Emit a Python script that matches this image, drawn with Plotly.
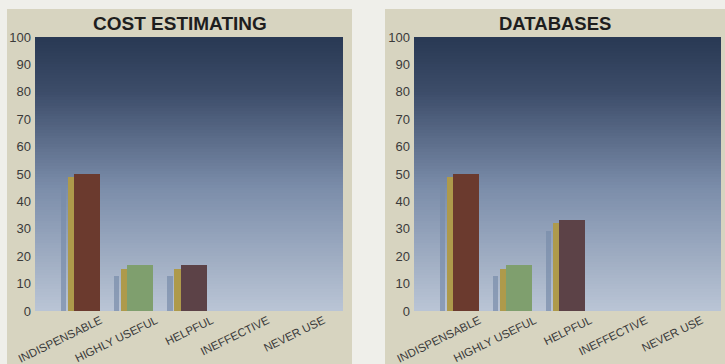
import plotly.graph_objects as go

categories = ["INDISPENSABLE", "HIGHLY USEFUL", "HELPFUL", "INEFFECTIVE", "NEVER USE"]
cost_estimating = [50.0, 16.7, 16.7, 0, 0]
databases = [50.0, 16.7, 33.3, 0, 0]
y_ticks = [0, 10, 20, 30, 40, 50, 60, 70, 80, 90, 100]
panel_titles = ["COST ESTIMATING", "DATABASES"]

W, H = 725, 364
front_colors = ["#6b3a2e", "#7f9f6e", "#5c4247", "#5c4247", "#5c4247"]
side_color = "#ae9a4b"
shadow_color = "rgba(120,140,170,0.7)"
XR = [-1.23, 4.57]
idx = list(range(len(categories)))
tick_pos = [i * 1.05 for i in idx]

# vertical gradient for the plot background
grad_y = list(range(0, 101))
grad_z = [[(a + 0.5)] for a in range(100)]
grad_scale = [[0, "#bac5d5"], [0.45, "#7b8daa"], [0.8, "#3c4c69"], [1, "#293853"]]

fig = go.Figure()

def add_panel(values, xa, ya):
    fig.add_trace(go.Heatmap(x=XR, y=grad_y, z=grad_z, colorscale=grad_scale,
                             showscale=False, hoverinfo="skip", zmin=0, zmax=100,
                             xaxis=xa, yaxis=ya))
    shadow = [max(v - 4, 0) if v > 0 else 0 for v in values]
    side = [max(v - 1.2, 0) if v > 0 else 0 for v in values]
    fig.add_trace(go.Bar(x=idx, y=shadow, width=0.1, offset=-0.74,
                         marker=dict(color=shadow_color, line=dict(width=0)),
                         showlegend=False, xaxis=xa, yaxis=ya))
    fig.add_trace(go.Bar(x=idx, y=side, width=0.12, offset=-0.61,
                         marker=dict(color=side_color, line=dict(width=0)),
                         showlegend=False, xaxis=xa, yaxis=ya))
    fig.add_trace(go.Bar(x=idx, y=values, width=0.49, offset=-0.49,
                         marker=dict(color=front_colors, line=dict(width=0)),
                         showlegend=False, xaxis=xa, yaxis=ya))

add_panel(cost_estimating, "x", "y")
add_panel(databases, "x2", "y2")

xdoms = [[35 / W, 343 / W], [414 / W, 721 / W]]
ydom = [1 - 311 / H, 1 - 37 / H]

xcommon = dict(range=XR, tickmode="array", tickvals=tick_pos, ticktext=categories,
               tickangle=-26, showgrid=False, zeroline=False, showline=False,
               ticks="", fixedrange=True, automargin=False,
               tickfont=dict(family="Liberation Sans, Arial, sans-serif", size=11.5, color="#3a3a3a"))
ycommon = dict(range=[0, 100], tickmode="array", tickvals=y_ticks,
               showgrid=False, zeroline=False, showline=False, ticks="", automargin=False,
               fixedrange=True, ticklabelstandoff=3,
               tickfont=dict(family="Liberation Sans, Arial, sans-serif", size=13, color="#3a3a3a"))

fig.update_layout(
    width=W, height=H,
    margin=dict(l=0, r=0, t=0, b=0, autoexpand=False),
    paper_bgcolor="#efefea",
    plot_bgcolor="rgba(0,0,0,0)",
    barmode="overlay",
    bargap=0,
    xaxis=dict(domain=xdoms[0], anchor="y", **xcommon),
    yaxis=dict(domain=ydom, anchor="x", **ycommon),
    xaxis2=dict(domain=xdoms[1], anchor="y2", **xcommon),
    yaxis2=dict(domain=ydom, anchor="x2", **ycommon),
    shapes=[
        dict(type="rect", xref="paper", yref="paper", x0=7 / W, x1=352 / W, y0=0, y1=1 - 9 / H,
             fillcolor="#d7d4c0", line=dict(width=0), layer="below"),
        dict(type="rect", xref="paper", yref="paper", x0=385 / W, x1=1, y0=0, y1=1 - 9 / H,
             fillcolor="#d7d4c0", line=dict(width=0), layer="below"),
    ],
    annotations=[
        dict(text="<b>" + panel_titles[0] + "</b>", xref="paper", yref="paper",
             x=180 / W, y=1 - 23 / H, showarrow=False, xanchor="center", yanchor="middle",
             font=dict(family="Liberation Sans, Arial, sans-serif", size=19, color="#1e1e1e")),
        dict(text="<b>" + panel_titles[1] + "</b>", xref="paper", yref="paper",
             x=(385 + 725) / 2 / W, y=1 - 23 / H, showarrow=False, xanchor="center", yanchor="middle",
             font=dict(family="Liberation Sans, Arial, sans-serif", size=18.5, color="#1e1e1e")),
    ],
)

fig.write_html("out.html", config={"displayModeBar": False},
               post_script="document.body.style.margin='0';")
